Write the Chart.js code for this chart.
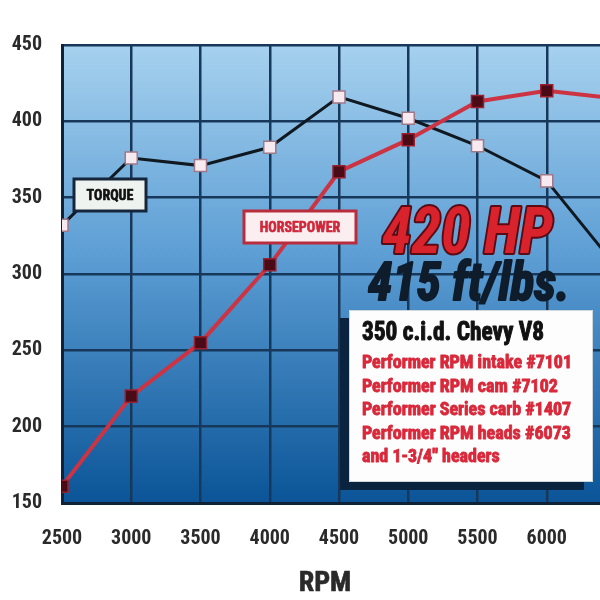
<!DOCTYPE html>
<html>
<head>
<meta charset="utf-8">
<script src="https://cdn.jsdelivr.net/npm/chart.js@4.4.1/dist/chart.umd.min.js"></script>
<style>
  html, body { margin:0; padding:0; background:#ffffff; overflow:hidden; width:600px; height:600px; }
  #wrap { position:relative; width:640px; height:600px; }
</style>
</head>
<body>
<div id="wrap"><canvas id="c"></canvas></div>
<script>
// ---- data ----
const rpm        = [2500, 3000, 3500, 4000, 4500, 5000, 5500, 6000, 6500];
const torque     = [332, 376, 371, 383, 416, 402, 384, 361, 305];
const horsepower = [161, 220, 255, 306, 367, 388, 413, 420, 415];
const boxTitle   = '350 c.i.d. Chevy V8';
const boxLines   = ['Performer RPM intake #7101', 'Performer RPM cam #7102', 'Performer Series carb #1407', 'Performer RPM heads #6073', 'and 1-3/4" headers'];

const NARROW = '"Roboto Condensed", "DejaVu Sans Condensed", sans-serif';

const bgPlugin = {
  id: 'bg',
  beforeDraw(chart) {
    const { ctx, chartArea: { left, top, right, bottom } } = chart;
    const g = ctx.createLinearGradient(0, top, 0, bottom);
    g.addColorStop(0, '#a6d1ee');
    g.addColorStop(0.45, '#5e9fd5');
    g.addColorStop(1, '#0a5497');
    ctx.save();
    ctx.fillStyle = g;
    ctx.fillRect(left, top, right - left, bottom - top);
    ctx.restore();
  }
};

function heavyText(ctx, text, x, y, maxW, sw) {
  ctx.lineWidth = sw;
  ctx.lineJoin = 'round';
  ctx.strokeStyle = ctx.fillStyle;
  ctx.strokeText(text, x, y, maxW);
  ctx.fillText(text, x, y, maxW);
}

function textBox(ctx, x, y, w, h, text, fill, border, color) {
  ctx.save();
  ctx.fillStyle = fill;
  ctx.fillRect(x, y, w, h);
  ctx.lineWidth = 3;
  ctx.strokeStyle = border;
  ctx.strokeRect(x, y, w, h);
  ctx.fillStyle = color;
  ctx.font = 'bold 14px ' + NARROW;
  ctx.textAlign = 'center';
  ctx.textBaseline = 'middle';
  heavyText(ctx, text, x + w / 2, y + h / 2 + 1, w - 18, 0.6);
  ctx.restore();
}

const annoPlugin = {
  id: 'anno',
  afterDatasetsDraw(chart) {
    const ctx = chart.ctx;
    // series labels
    textBox(ctx, 74, 179, 72, 32, 'TORQUE', '#eef3ef', '#16263a', '#111111');
    textBox(ctx, 244, 211, 112, 32, 'HORSEPOWER', '#fbeef1', '#b82c3c', '#d0283a');

    ctx.save();
    ctx.textAlign = 'left';
    ctx.textBaseline = 'alphabetic';
    // 420 HP
    ctx.font = 'italic bold 64px ' + NARROW;
    ctx.lineJoin = 'round';
    ctx.lineWidth = 4;
    ctx.strokeStyle = '#5a0a12';
    ctx.strokeText('420 HP', 382, 253, 171);
    ctx.fillStyle = '#d8232d';
    ctx.fillText('420 HP', 382, 253, 171);
    // 415 ft/lbs.
    ctx.font = 'italic bold 54px ' + NARROW;
    ctx.fillStyle = '#0e1c2b';
    heavyText(ctx, '415 ft/lbs.', 368, 300, 202, 2);

    // spec box with shadow
    ctx.fillStyle = '#0a2440';
    ctx.fillRect(340, 318, 244, 172);
    ctx.fillStyle = '#fdfdfd';
    ctx.fillRect(349, 310, 244, 172);
    ctx.lineWidth = 1;
    ctx.strokeStyle = '#cfd6dc';
    ctx.strokeRect(349.5, 310.5, 243, 171);

    ctx.fillStyle = '#111111';
    ctx.font = 'bold 26px ' + NARROW;
    heavyText(ctx, boxTitle, 362, 340, 182, 1);
    ctx.fillStyle = '#d8283a';
    ctx.font = 'bold 18px ' + NARROW;
    boxLines.forEach((t, i) => heavyText(ctx, t, 362, 368 + i * 23.5, 210, 0.8));

    // axis title
    ctx.fillStyle = '#2a2a2a';
    ctx.font = 'bold 28px ' + NARROW;
    ctx.textAlign = 'center';
    heavyText(ctx, 'RPM', 325, 591, 60, 0.6);
    ctx.restore();
  }
};

new Chart(document.getElementById('c'), {
  type: 'line',
  data: {
    datasets: [
      {
        label: 'Torque',
        data: rpm.map((r, i) => ({ x: r, y: torque[i] })),
        borderColor: '#101820',
        borderWidth: 3,
        pointStyle: 'rect',
        pointRadius: 8.5,
        pointBackgroundColor: '#f6e9ef',
        pointBorderColor: '#a07888',
        pointBorderWidth: 1.5,
        tension: 0,
        order: 2
      },
      {
        label: 'Horsepower',
        data: rpm.map((r, i) => ({ x: r, y: horsepower[i] })),
        borderColor: '#cc3444',
        borderWidth: 4,
        pointStyle: 'rect',
        pointRadius: 8.5,
        pointBackgroundColor: '#4a0a16',
        pointBorderColor: '#9a2030',
        pointBorderWidth: 1.5,
        tension: 0,
        order: 1
      }
    ]
  },
  options: {
    responsive: true,
    maintainAspectRatio: false,
    animation: false,
    layout: { padding: { left: 0, top: 45, right: 12, bottom: 0 } },
    plugins: { legend: { display: false }, tooltip: { enabled: false } },
    scales: {
      x: {
        type: 'linear',
        min: 2500, max: 6500,
        afterFit(s) { s.height = 97; },
        grid: { color: '#17385a', lineWidth: 2.5, drawTicks: false },
        border: { color: '#0f2238', width: 3 },
        ticks: {
          stepSize: 500,
          padding: 24,
          color: '#2a2a2a',
          font: { family: NARROW, size: 20, weight: 'bold' },
          callback: v => (v === 6500 ? '' : String(v))
        }
      },
      y: {
        min: 150, max: 450,
        afterFit(s) { s.width = 62; },
        grid: { color: '#17385a', lineWidth: 2.5, drawTicks: false },
        border: { color: '#0f2238', width: 3 },
        ticks: {
          stepSize: 50,
          padding: 20,
          color: '#2a2a2a',
          font: { family: NARROW, size: 20, weight: 'bold' }
        }
      }
    }
  },
  plugins: [bgPlugin, annoPlugin]
});
</script>
</body>
</html>
